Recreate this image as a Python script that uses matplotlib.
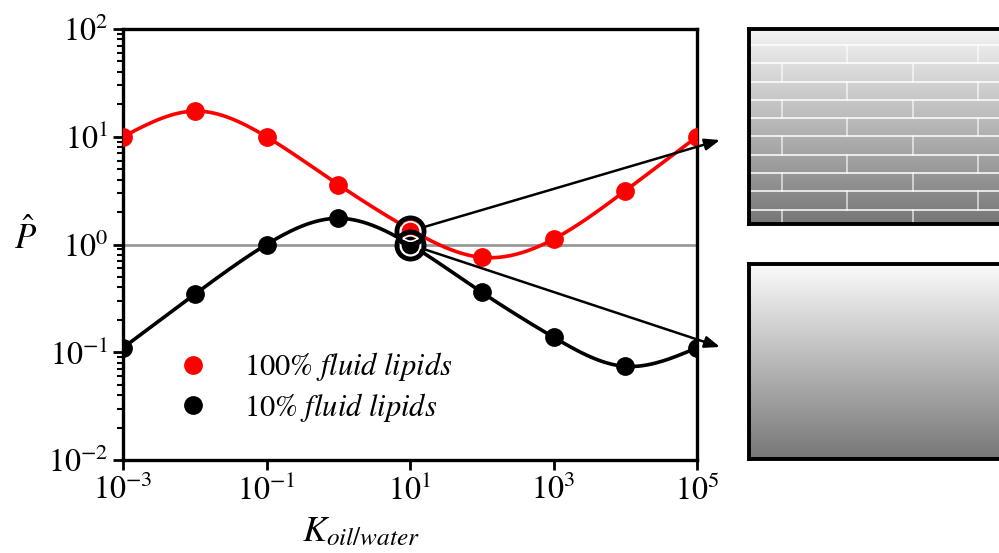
import numpy as np
import matplotlib
matplotlib.use('Agg')
import matplotlib.pyplot as plt

plt.rcParams['font.family'] = ['STIXGeneral', 'DejaVu Serif']
plt.rcParams['mathtext.fontset'] = 'stix'

# data
k_exp = [-3, -2, -1, 0, 1, 2, 3, 4, 5]
p_fluid100 = [10.0, 17.3, 10.0, 3.6, 1.38, 0.76, 1.12, 3.15, 10.0]
p_fluid10 = [0.11, 0.345, 1.0, 1.75, 1.0, 0.36, 0.138, 0.074, 0.11]
ring_vals = [1.33, 1.0]
labels = ['100% $fluid\\ lipids$', '10% $fluid\\ lipids$']


def spline(x, y, xs):
    # natural cubic spline, plain numpy
    x = np.asarray(x, float); y = np.asarray(y, float)
    n = len(x)
    h = np.diff(x)
    A = np.zeros((n, n)); b = np.zeros(n)
    A[0, 0] = A[-1, -1] = 1
    for i in range(1, n - 1):
        A[i, i - 1] = h[i - 1]
        A[i, i] = 2 * (h[i - 1] + h[i])
        A[i, i + 1] = h[i]
        b[i] = 3 * ((y[i + 1] - y[i]) / h[i] - (y[i] - y[i - 1]) / h[i - 1])
    c = np.linalg.solve(A, b)
    idx = np.clip(np.searchsorted(x, xs) - 1, 0, n - 2)
    dx = xs - x[idx]
    bb = (y[idx + 1] - y[idx]) / h[idx] - h[idx] * (2 * c[idx] + c[idx + 1]) / 3
    d = (c[idx + 1] - c[idx]) / (3 * h[idx])
    return y[idx] + bb * dx + c[idx] * dx ** 2 + d * dx ** 3


fig = plt.figure(figsize=(9.99, 5.53), dpi=100)
ax = fig.add_axes([123 / 999, 1 - 460 / 553, 574 / 999, 431 / 553])

xs = np.linspace(-3, 5, 400)
kx = 10.0 ** np.array(k_exp)
for vals, col, lab in [(p_fluid100, 'red', labels[0]), (p_fluid10, 'black', labels[1])]:
    ys = spline(k_exp, np.log10(vals), xs)
    ax.plot(10 ** xs, 10 ** ys, color=col, lw=2.6, zorder=3)
    ax.plot(kx, vals, 'o', color=col, ms=12.5, label=lab, zorder=4)

ax.axhline(1.0, color='#999999', lw=2, zorder=1)

# highlighted points at K = 10
for v in ring_vals:
    ax.plot(10, v, 'o', mfc='none', mec='black', ms=19.5, mew=3.5, zorder=6)
    ax.plot(10, v, 'o', mfc='none', mec='white', ms=14, mew=1.2, zorder=5)

# arrows out to the panels
tips = [(720 / 999, 1 - 140 / 553), (720 / 999, 1 - 347 / 553)]
for v, tip in zip(ring_vals, tips):
    ax.annotate('', xy=tip, xycoords='figure fraction', xytext=(10, v), textcoords='data',
                arrowprops=dict(arrowstyle='-|>,head_length=0.9,head_width=0.35', color='black',
                                lw=1.8, shrinkA=11, shrinkB=0), annotation_clip=False, zorder=7)

ax.set_xscale('log')
ax.set_yscale('log')
ax.set_xlim(1e-3, 1e5)
ax.set_ylim(1e-2, 1e2)
ax.set_xticks([1e-3, 1e-1, 1e1, 1e3, 1e5])
ax.xaxis.set_minor_locator(matplotlib.ticker.NullLocator())
ax.set_yticks([1e-2, 1e-1, 1e0, 1e1, 1e2])
ax.tick_params(which='major', length=7, width=2, labelsize=23, direction='out')
ax.tick_params(which='minor', length=4, width=1.5)
for s in ax.spines.values():
    s.set_linewidth(2.4)

ax.set_xlabel('$K_{oil/water}$', fontsize=26)
ax.xaxis.set_label_coords(0.415, -0.13)
ax.set_ylabel('$\\hat{P}$', fontsize=25, rotation=0)
ax.yaxis.set_label_coords(-0.17, 0.47)

ax.legend(loc='lower left', bbox_to_anchor=(0.02, 0.02), frameon=False, fontsize=22,
          handletextpad=0.7, labelspacing=0.25, numpoints=1)

# right-hand panels
grad = np.linspace(0, 1, 256).reshape(-1, 1)
cmap = matplotlib.colors.LinearSegmentedColormap.from_list('g', ['#fbfbfb', '#777777'])

ax1 = fig.add_axes([749 / 999, 1 - 224 / 553, 300 / 999, 195 / 553])
ax1.imshow(grad, aspect='auto', cmap=cmap, extent=[0, 300, 195, 0], vmin=-0.05, vmax=1)
row_h = 18.3
y = 16.0
row = 0
while y < 195:
    ax1.axhline(y, color='white', lw=1.3, alpha=0.85)
    y_next = min(y + row_h, 195)
    start = 98 if row % 2 == 0 else 33
    x = start
    while x < 300:
        ax1.plot([x, x], [y, y_next], color='white', lw=1.1, alpha=0.75)
        x += 131
    y += row_h
    row += 1
ax1.set_xlim(0, 300)
ax1.set_ylim(195, 0)

ax2 = fig.add_axes([749 / 999, 1 - 459 / 553, 300 / 999, 195 / 553])
ax2.imshow(grad, aspect='auto', cmap=cmap, extent=[0, 300, 195, 0])

for a in (ax1, ax2):
    a.set_xticks([])
    a.set_yticks([])
    for s in a.spines.values():
        s.set_linewidth(2.8)

fig.savefig('out.png', dpi=100)
